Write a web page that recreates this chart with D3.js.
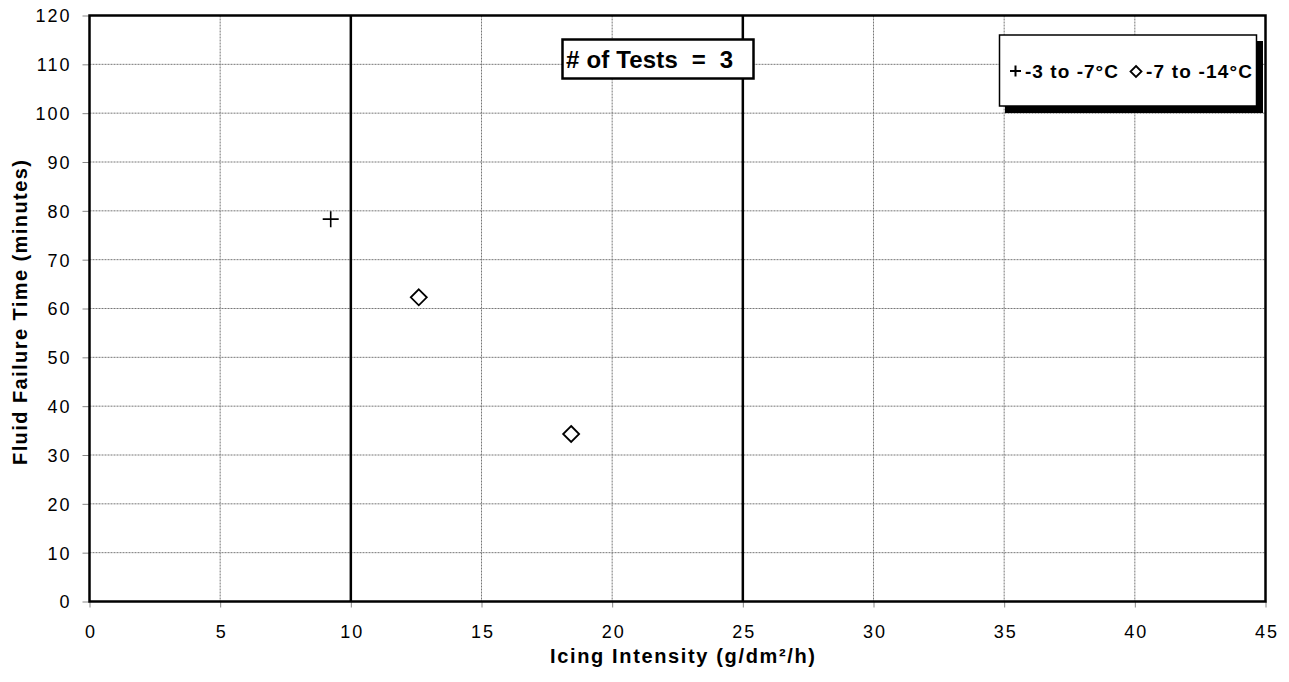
<!DOCTYPE html>
<html>
<head>
<meta charset="utf-8">
<script src="https://cdn.jsdelivr.net/npm/d3@7"></script>
<style>
  html, body { margin: 0; padding: 0; background: #fff; }
  svg { display: block; font-family: "Liberation Sans", Arial, sans-serif; }
</style>
</head>
<body>
<svg id="chart" width="1289" height="682"></svg>
<script>
// Fluid failure time vs icing intensity, grouped by temperature band
const warmX = [9.23];
const warmY = [78.3];
const coldX = [12.6, 18.43];
const coldY = [62.3, 34.3];
const xTicks = [0, 5, 10, 15, 20, 25, 30, 35, 40, 45];
const yTicks = [0, 10, 20, 30, 40, 50, 60, 70, 80, 90, 100, 110, 120];
const intensityBounds = [10, 25];
const warmLabel = "-3 to -7°C";
const coldLabel = "-7 to -14°C";
const testsLabel = "# of Tests  =  3";
const xTitle = "Icing Intensity (g/dm²/h)";
const yTitle = "Fluid Failure Time (minutes)";

const svg = d3.select("#chart");
const m = { left: 89.5, right: 1265.5, top: 15.5, bottom: 601.5 };

const x = d3.scaleLinear().domain([0, 45]).range([m.left, m.right]);
const y = d3.scaleLinear().domain([0, 120]).range([m.bottom, m.top]);

// stretch a text run to a given width by widening glyph spacing
function spread(sel, w) {
  sel.attr("textLength", w).attr("lengthAdjust", "spacing");
  return sel;
}

// dotted grid
const grid = svg.append("g");
grid.selectAll("line.gx").data(xTicks.slice(1, -1)).join("line")
  .attr("x1", d => x(d)).attr("x2", d => x(d))
  .attr("y1", m.top).attr("y2", m.bottom)
  .attr("stroke", "#777").attr("stroke-width", 1).attr("stroke-dasharray", "2,1");
grid.selectAll("line.gy").data(yTicks.slice(1, -1)).join("line")
  .attr("x1", m.left).attr("x2", m.right)
  .attr("y1", d => y(d)).attr("y2", d => y(d))
  .attr("stroke", "#777").attr("stroke-width", 1).attr("stroke-dasharray", "2,1");

// axes
const xAxis = d3.axisBottom(x).tickValues(xTicks).tickSize(6).tickPadding(0);
const yAxis = d3.axisLeft(y).tickValues(yTicks).tickSize(7).tickPadding(13);

const gx = svg.append("g").attr("transform", `translate(0,${m.bottom})`).call(xAxis);
const gy = svg.append("g").attr("transform", `translate(${m.left},0)`).call(yAxis);
[gx, gy].forEach(g => {
  g.attr("font-size", null).attr("font-family", null);
  g.select(".domain").remove();
  g.selectAll(".tick line").attr("stroke", "#888");
  g.selectAll(".tick text").attr("fill", "#000")
    .attr("font-size", 18).attr("letter-spacing", "2px");
});
gx.selectAll(".tick text").attr("dy", null).attr("y", 36).attr("dx", 1);
gy.selectAll(".tick text").attr("dy", "0.36em").attr("dx", 2);

// heavy frame and intensity boundaries
svg.append("rect")
  .attr("x", m.left).attr("y", m.top)
  .attr("width", m.right - m.left).attr("height", m.bottom - m.top)
  .attr("fill", "none").attr("stroke", "#000").attr("stroke-width", 2.5);
svg.selectAll("line.bound").data(intensityBounds).join("line")
  .attr("x1", d => x(d)).attr("x2", d => x(d))
  .attr("y1", m.top).attr("y2", m.bottom)
  .attr("stroke", "#000").attr("stroke-width", 2.5);

// axis titles
spread(svg.append("text")
  .attr("x", 550).attr("y", 663)
  .attr("font-size", 20).attr("font-weight", "bold")
  .text(xTitle), 265);
spread(svg.append("text")
  .attr("transform", "translate(27,465) rotate(-90)")
  .attr("font-size", 20).attr("font-weight", "bold")
  .text(yTitle), 305);

// markers
const plusPath = "M-8,0H8M0,-8V8";
const diamondPath = "M0,-8L8,0L0,8L-8,0Z";

svg.selectAll("path.warm").data(d3.range(warmX.length)).join("path")
  .attr("transform", i => `translate(${x(warmX[i])},${y(warmY[i])})`)
  .attr("d", plusPath).attr("stroke", "#000").attr("stroke-width", 1.6).attr("fill", "none");
svg.selectAll("path.cold").data(d3.range(coldX.length)).join("path")
  .attr("transform", i => `translate(${x(coldX[i])},${y(coldY[i])})`)
  .attr("d", diamondPath).attr("stroke", "#000").attr("stroke-width", 1.8).attr("fill", "#fff");

// test count box
const tb = svg.append("g");
tb.append("rect").attr("x", 562.5).attr("y", 39.5).attr("width", 191).attr("height", 39)
  .attr("fill", "#fff").attr("stroke", "#000").attr("stroke-width", 2.5);
spread(tb.append("text").attr("x", 566).attr("y", 68)
  .attr("font-size", 24).attr("font-weight", "bold")
  .attr("xml:space", "preserve")
  .style("white-space", "pre")
  .text(testsLabel), 167);

// legend with drop shadow
const lg = svg.append("g");
lg.append("rect").attr("x", 1005).attr("y", 41).attr("width", 258).attr("height", 72).attr("fill", "#000");
lg.append("rect").attr("x", 999.5).attr("y", 35).attr("width", 257).attr("height", 71)
  .attr("fill", "#fff").attr("stroke", "#000").attr("stroke-width", 1.5);
lg.append("path").attr("transform", "translate(1015.5,71)").attr("d", "M-5.5,0H5.5M0,-5.5V5.5")
  .attr("stroke", "#000").attr("stroke-width", 2);
spread(lg.append("text").attr("x", 1025).attr("y", 77.5)
  .attr("font-size", 19).attr("font-weight", "bold").text(warmLabel), 93);
lg.append("path").attr("transform", "translate(1136,71.5)").attr("d", "M0,-5.5L5.5,0L0,5.5L-5.5,0Z")
  .attr("stroke", "#000").attr("stroke-width", 1.8).attr("fill", "#fff");
spread(lg.append("text").attr("x", 1146).attr("y", 77.5)
  .attr("font-size", 19).attr("font-weight", "bold").text(coldLabel), 106);
</script>
</body>
</html>
